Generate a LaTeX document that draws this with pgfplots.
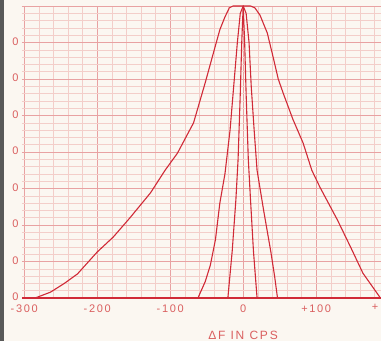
\documentclass[border=0pt]{standalone}
\usepackage{pgfplots}
\pgfplotsset{compat=1.18}
\usepackage{fontspec}
\setmainfont{Liberation Sans}
\newfontfamily\lblfont[LetterSpace=15]{Liberation Sans}
\definecolor{paper}{RGB}{251,247,241}
\definecolor{curve}{RGB}{208,42,55}
\definecolor{txt}{RGB}{218,95,95}
\definecolor{gmin}{RGB}{243,206,201}
\definecolor{gmaj}{RGB}{232,162,162}
\begin{document}
\begin{tikzpicture}[x=1pt,y=1pt]
\fill[paper] (0,0) rectangle (381,341);
\useasboundingbox (0,0) rectangle (381,341);
\begin{axis}[
  at={(22pt,43pt)}, anchor=south west,
  scale only axis, width=367.2pt, height=292pt,
  xmin=-303, xmax=200, ymin=0, ymax=8,
  clip=false,
  xtick={-300,-200,-100,0,100,200},
  xticklabels={-300,-200,-100,0,+100,{\makebox[0pt][r]{+\hspace{11pt}}}},
  minor x tick num=4,
  ytick={0,...,8}, yticklabels={0,0,0,0,0,0,0,0,{}},
  minor y tick num=4,
  grid=both,
  major grid style={gmaj, line width=0.6pt},
  minor grid style={gmin, line width=0.5pt},
  axis line style={draw=none},
  major tick length=0pt, minor tick length=0pt,
  tick label style={font=\lblfont\fontsize{11}{12}\selectfont, text=txt},
  xticklabel style={yshift=-3pt},
  yticklabel style={yshift=1pt},
  xlabel={ΔF IN CPS},
  xlabel style={font=\lblfont\fontsize{12}{13}\selectfont, text=txt,
    at={(axis description cs:0.602,0)}, anchor=north, yshift=-30pt},
]
\addplot[curve, line width=2pt] coordinates {(-303,0) (200,0)};
\addplot[curve, line width=1.1pt, line join=round] coordinates {
(-285,0)(-264,0.16)(-245,0.4)(-227,0.66)(-200,1.26)(-178,1.67)(-155,2.2)(-127,2.88)(-107,3.5)(-90,3.97)(-68,4.8)(-52,5.9)(-41,6.7)(-32,7.35)(-25,7.7)(-19,7.95)(-14,8)(10,8)(16,7.95)(23,7.75)(33,7.26)(41,6.6)(48,6.0)(55,5.6)(68,4.9)(82,4.25)(94,3.5)(105,3.04)(129,2.14)(147,1.4)(164,0.68)(188,0)
};
\addplot[curve, line width=1.1pt, line join=round] coordinates {
(-62,0)(-52,0.45)(-45,0.9)(-38,1.6)(-32,2.6)(-25,3.4)(-18,4.6)(-13,5.8)(-8,7.0)(-4,7.8)(0,8)(4,7.8)(8,7.0)(11,5.8)(15,4.6)(19,3.5)(28,2.4)(38,1.25)(43,0.6)(47,0)
};
\addplot[curve, line width=1.1pt, line join=round] coordinates {
(-21,0)(-15,1.3)(-10,2.7)(-7,3.8)(-4,5.6)(-2,7)(0,8)(2,7)(4,5.6)(7,3.8)(10,2.7)(14,1.3)(19,0)
};
\end{axis}
\fill[black!65] (0,0) rectangle (3.5,341);
\end{tikzpicture}
\end{document}
